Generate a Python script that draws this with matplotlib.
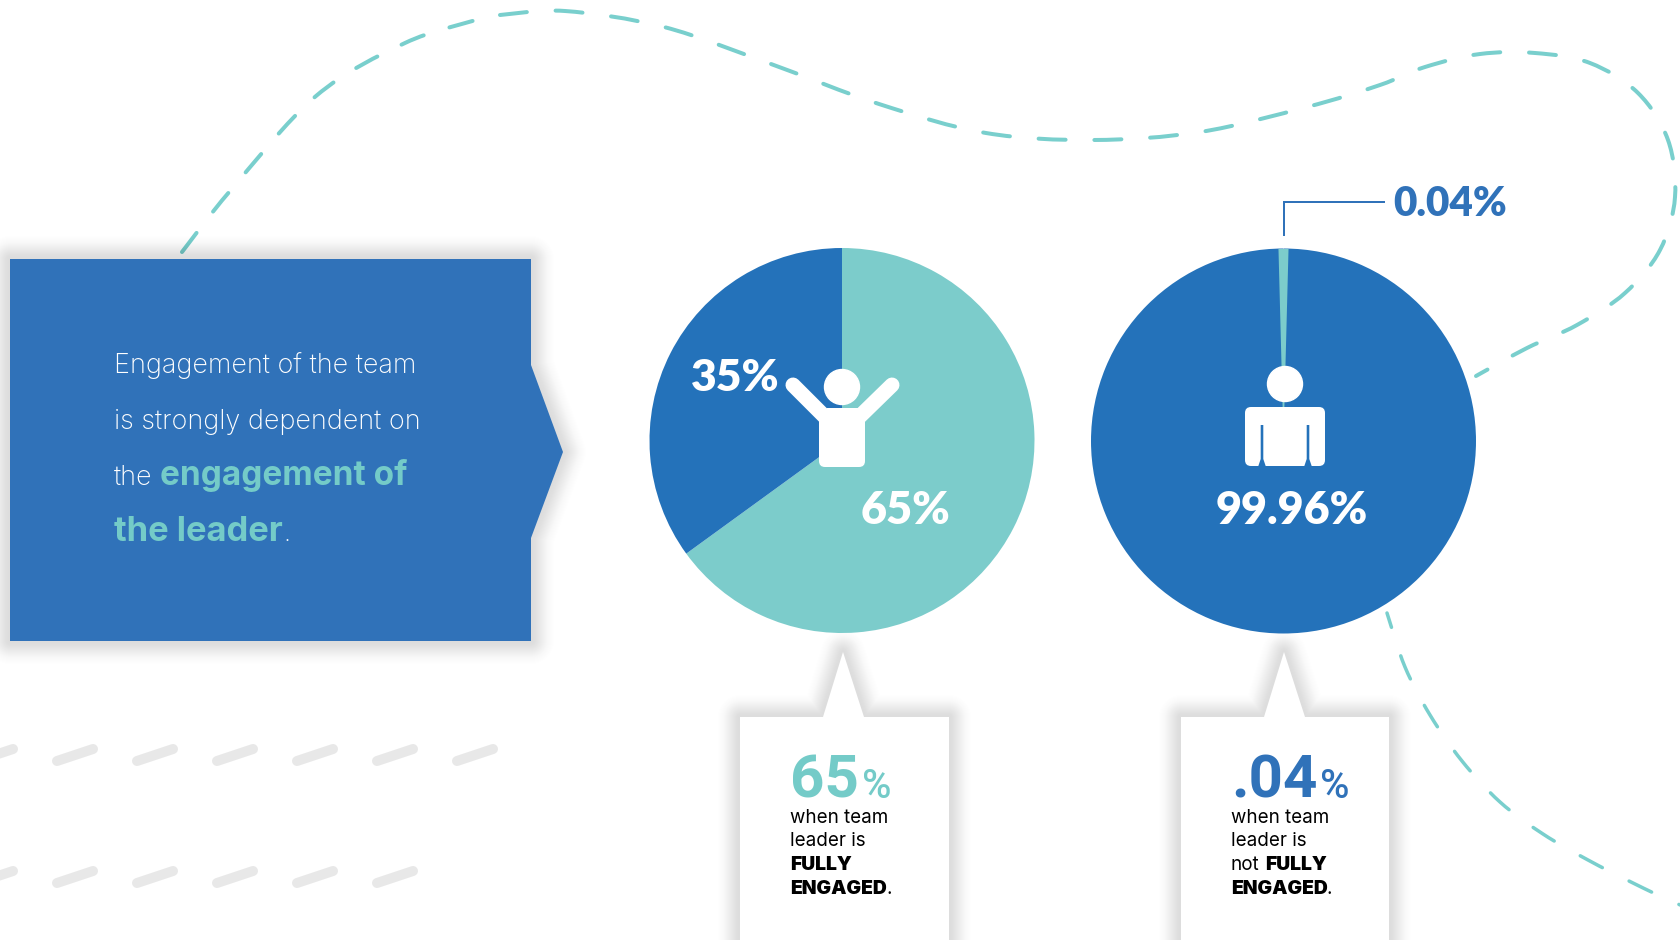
import numpy as np
import matplotlib
matplotlib.use("Agg")
import matplotlib.pyplot as plt
from matplotlib.patches import Circle, FancyBboxPatch, PathPatch, Polygon, Wedge
from matplotlib.path import Path

plt.rcParams["lines.scale_dashes"] = False

### data

engaged_values = [65, 35]
not_engaged_values = [0.04, 99.96]

rising_curve = [
    (182, 252), (230, 191), (316, 96), (405, 43), (476, 20),
]
falling_curve = [
    (500, 15), (565, 11), (664, 27), (771, 64), (879, 104), (986, 133),
    (1093, 140), (1200, 132), (1307, 107), (1380, 85), (1425, 67), (1480, 54),
    (1535, 53), (1590, 63), (1638, 93), (1668, 140), (1675, 197), (1660, 250),
    (1625, 293), (1577, 325), (1527, 348), (1476, 376),
]
bottom_curve = [
    (1387, 613), (1405, 667), (1430, 715), (1462, 761), (1500, 802),
    (1543, 834), (1588, 860), (1633, 883), (1673, 902), (1700, 912),
]
gray_row_1 = [-23, 57, 137, 217, 297, 377, 457]
gray_row_2 = [-23, 57, 137, 217, 297, 377]

### colours

BLUE = "#2472ba"
BOX_BLUE = "#3072b9"
TEAL = "#7ccccb"
TEAL_TEXT = "#74cbc8"
DASH_TEAL = "#79cfcd"
GRAY = "#e8e8e8"

W, H = 1680, 940
PX = 0.72  # points per pixel at dpi 100


def full_axes(z):
    a = fig.add_axes([0, 0, 1, 1], zorder=z)
    a.set_xlim(0, W)
    a.set_ylim(H, 0)
    a.axis("off")
    a.patch.set_alpha(0)
    return a


def smooth_path(points):
    # catmull-rom tangents turned into bezier segments
    p = np.array(points, dtype=float)
    verts = [p[0]]
    codes = [Path.MOVETO]
    for i in range(len(p) - 1):
        t0 = p[i + 1] - p[i - 1] if i > 0 else p[1] - p[0]
        t1 = p[i + 2] - p[i] if i < len(p) - 2 else p[i + 1] - p[i]
        verts += [p[i] + t0 / 6, p[i + 1] - t1 / 6, p[i + 1]]
        codes += [Path.CURVE4] * 3
    return Path(verts, codes)


def dashed_curve(ax, points, on=25, off=30, offset=0, lw=4):
    patch = PathPatch(
        smooth_path(points), fill=False, edgecolor=DASH_TEAL, linewidth=lw * PX,
        linestyle=(offset * PX, (on * PX, off * PX)), capstyle="round",
    )
    ax.add_patch(patch)


def soft_shadow(ax, outline, spread=26, peak=0.13):
    # strokes of growing width pile up into a falloff away from the edge
    sigma = spread / 2.6
    steps = np.arange(1, spread + 1)
    weights = steps * np.exp(-steps ** 2 / (2 * sigma ** 2))
    weights = peak * weights / weights.sum()
    for s, a in zip(steps, weights):
        ax.add_patch(Polygon(outline, closed=True, facecolor="none", edgecolor="black",
                             linewidth=2 * s * PX, alpha=a, joinstyle="round"))


def put(ax, x, y, s, size, color="black", family="Inter", weight="normal", **kw):
    return ax.text(x, y, s, fontsize=size * PX, color=color, family=family, weight=weight,
                   va="baseline", ha=kw.pop("ha", "left"), **kw)


def pie_axes(cx, cy, r):
    a = fig.add_axes([(cx - r) / W, 1 - (cy + r) / H, 2 * r / W, 2 * r / H], zorder=2)
    a.set_xlim(-1, 1)
    a.set_ylim(-1, 1)
    return a


fig = plt.figure(figsize=(W / 100, H / 100), dpi=100, facecolor="white")
bg = full_axes(1)
top = full_axes(3)

### dashed decoration

dashed_curve(bg, rising_curve, on=24, off=27)
dashed_curve(bg, falling_curve, on=27, off=28.8)
dashed_curve(bg, bottom_curve, offset=10, lw=3.5)
for row, y0 in ((gray_row_1, 761), (gray_row_2, 883)):
    for x0 in row:
        bg.plot([x0, x0 + 36], [y0, y0 - 12], color=GRAY, linewidth=10 * PX,
                solid_capstyle="round")

### headline box

box = [(10, 259), (531, 259), (531, 365), (563, 452), (531, 538), (531, 641), (10, 641)]
soft_shadow(bg, box)
bg.add_patch(Polygon(box, closed=True, facecolor=BOX_BLUE, edgecolor="none"))

put(bg, 114, 373, "Engagement of the team", 27, "white", "Inter", "light")
put(bg, 114, 429, "is strongly dependent on", 27, "white", "Inter", "light")
put(bg, 114, 485, "the", 27, "white", "Inter", "light")
put(bg, 160, 485, "engagement of", 33.3, TEAL_TEXT, "Inter", "bold")
put(bg, 114, 541, "the leader", 34.5, TEAL_TEXT, "Inter", "bold")
put(bg, 284, 541, ".", 25.5, "white", "Inter", "light")

### pies

ax1 = pie_axes(842, 440.5, 192.5)
ax1.pie(engaged_values, colors=[TEAL, BLUE], startangle=90, counterclock=False, radius=1)
ax1.set_xlim(-1, 1)
ax1.set_ylim(-1, 1)

ax2 = pie_axes(1283.5, 441, 192.5)
half = not_engaged_values[0] / 100 * 180
ax2.pie(not_engaged_values, colors=[TEAL, BLUE], startangle=90 + half, counterclock=False, radius=1)
ax2.set_xlim(-1, 1)
ax2.set_ylim(-1, 1)
# the true 0.04% slice is under a pixel wide, widen its marker so it can be seen
ax2.add_patch(Wedge((0, 0), 1, 88.5, 91.5, facecolor=TEAL, edgecolor="none"))

### figures in the pies

top.add_patch(Circle((842, 387), 17.5, color="white"))
top.plot([793, 832], [385, 424], color="white", linewidth=15 * PX, solid_capstyle="round")
top.plot([892, 852], [385, 424], color="white", linewidth=15 * PX, solid_capstyle="round")
top.add_patch(Polygon([(827, 408), (858, 408), (865, 422), (819, 422)], closed=True,
                      facecolor="white", edgecolor="none"))
top.add_patch(FancyBboxPatch((825, 420), 34, 41, boxstyle="round,pad=6,rounding_size=6",
                             facecolor="white", edgecolor="none"))

top.add_patch(Circle((1285, 384), 17.5, color="white"))
top.add_patch(FancyBboxPatch((1251, 413), 68, 47, boxstyle="round,pad=6,rounding_size=6",
                             facecolor="white", edgecolor="none"))
for slit_x in (1262, 1308):
    top.add_patch(Polygon([(slit_x - 1.3, 425), (slit_x + 1.3, 425), (slit_x + 1.3, 459),
                           (slit_x + 4, 467), (slit_x - 4, 467), (slit_x - 1.3, 459)],
                          closed=True, facecolor=BLUE, edgecolor="none"))

put(top, 691, 391, "35%", 44.5, "white", "Lato", "heavy")
put(top, 861, 524, "65%", 45, "white", "Lato", "heavy")
put(top, 1216, 524, "99.96%", 45, "white", "Lato", "heavy")

### 0.04% leader

top.plot([1284, 1284, 1384], [235, 202, 202], color=BOX_BLUE, linewidth=2 * PX,
         solid_joinstyle="miter")
put(top, 1393, 216, "0.04%", 40.5, BOX_BLUE, "Lato", "heavy")

### callouts

for left, right, apex in ((740, 949, 843), (1181, 1389, 1284)):
    shape = [(left, 960), (left, 717), (apex - 20, 717), (apex, 652), (apex + 21, 717),
             (right, 717), (right, 960)]
    soft_shadow(bg, shape, spread=24, peak=0.14)
    bg.add_patch(Polygon(shape, closed=True, facecolor="white", edgecolor="none"))

put(bg, 790, 798, "65", 60, TEAL_TEXT, "Roboto", "bold")
put(bg, 862, 798, "%", 40, TEAL_TEXT, "Roboto", "medium")
put(bg, 1231, 798, ".04", 60, BOX_BLUE, "Roboto", "bold")
put(bg, 1320, 798, "%", 40, BOX_BLUE, "Roboto", "medium")

for x0, lines in ((790, ["when team", "leader is"]), (1231, ["when team", "leader is", "not"])):
    for line, y0 in zip(lines, (823, 846, 870)):
        put(bg, x0, y0, line, 18.8, "black", "Inter")

put(bg, 790, 870, "FULLY", 19.3, "black", "Inter", "black")
put(bg, 790, 894, "ENGAGED", 19.3, "black", "Inter", "black")
put(bg, 886, 894, ".", 18.8, "black", "Inter")
put(bg, 1265, 870, "FULLY", 19.3, "black", "Inter", "black")
put(bg, 1231, 894, "ENGAGED", 19.3, "black", "Inter", "black")
put(bg, 1327, 894, ".", 18.8, "black", "Inter")

fig.savefig("out.png", dpi=100, facecolor="white")
